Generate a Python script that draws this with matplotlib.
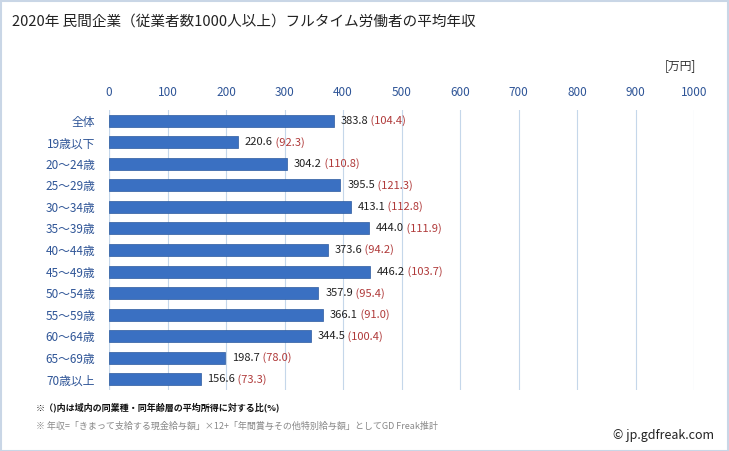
import matplotlib.pyplot as plt
import numpy as np

plt.rcParams['font.family'] = ['Noto Sans CJK JP', 'DejaVu Sans']

categories = ['全体', '19歳以下', '20～24歳', '25～29歳', '30～34歳', '35～39歳', '40～44歳',
              '45～49歳', '50～54歳', '55～59歳', '60～64歳', '65～69歳', '70歳以上']
values = [383.8, 220.6, 304.2, 395.5, 413.1, 444.0, 373.6, 446.2, 357.9, 366.1, 344.5, 198.7, 156.6]
ratios = [104.4, 92.3, 110.8, 121.3, 112.8, 111.9, 94.2, 103.7, 95.4, 91.0, 100.4, 78.0, 73.3]
xticks = [0, 100, 200, 300, 400, 500, 600, 700, 800, 900, 1000]

fig = plt.figure(figsize=(7.29, 4.51), dpi=100)
ax = fig.add_axes([109 / 729, 1 - 390 / 451, 585 / 729, 280 / 451])

y = np.arange(len(categories))
ax.barh(y, values, height=0.56, color='#3a70c2', edgecolor='#2c5a9e', linewidth=0.5, zorder=3)

for i, (v, r) in enumerate(zip(values, ratios)):
    t = ax.annotate(f'{v:.1f}', (v, i), xytext=(5, 0), textcoords='offset points',
                    va='center', ha='left', fontsize=8, color='#222222')
    ax.annotate(f' ({r:.1f})', xy=(1, 0.5), xycoords=t, va='center', ha='left',
                fontsize=8, color='#b03a3a')

ax.set_xlim(0, 1000)
ax.set_ylim(12.5, -0.5)
ax.set_xticks(xticks)
ax.set_yticks(y)
ax.set_yticklabels(categories)
ax.xaxis.tick_top()
ax.tick_params(axis='x', length=0, labelsize=8.5, labelcolor='#2f5597', pad=8)
ax.tick_params(axis='y', length=0, labelsize=8.5, labelcolor='#2f5597', pad=10)
ax.grid(axis='x', color='#c5d7ea', linewidth=0.8, zorder=0)
for s in ax.spines.values():
    s.set_visible(False)
ax.axvline(0, color='#c5d7ea', linewidth=0.8, zorder=1)

fig.text(12 / 729, 1 - 22 / 451, '2020年 民間企業（従業者数1000人以上）フルタイム労働者の平均年収',
         fontsize=10.5, va='center', ha='left', color='#222222')
fig.text(696 / 729, 1 - 66 / 451, '[万円]', fontsize=8.5, va='center', ha='right', color='#333333')
fig.text(36 / 729, 1 - 407 / 451, '※（)内は域内の同業種・同年齢層の平均所得に対する比(%)',
         fontsize=6.5, va='center', ha='left', color='#111111', weight='bold')
fig.text(36 / 729, 1 - 426 / 451, '※ 年収=「きまって支給する現金給与額」×12+「年間賞与その他特別給与額」としてGD Freak推計',
         fontsize=6.5, va='center', ha='left', color='#888888')
fig.text(714 / 729, 1 - 436 / 451, '© jp.gdfreak.com', fontsize=9, va='center', ha='right', color='#222222')

border = plt.Rectangle((0.001, 0.001), 0.998, 0.997, transform=fig.transFigure, fill=False,
                       edgecolor='#c9d6e6', linewidth=1.5)
fig.patches.append(border)

fig.savefig('out.png', dpi=100)
